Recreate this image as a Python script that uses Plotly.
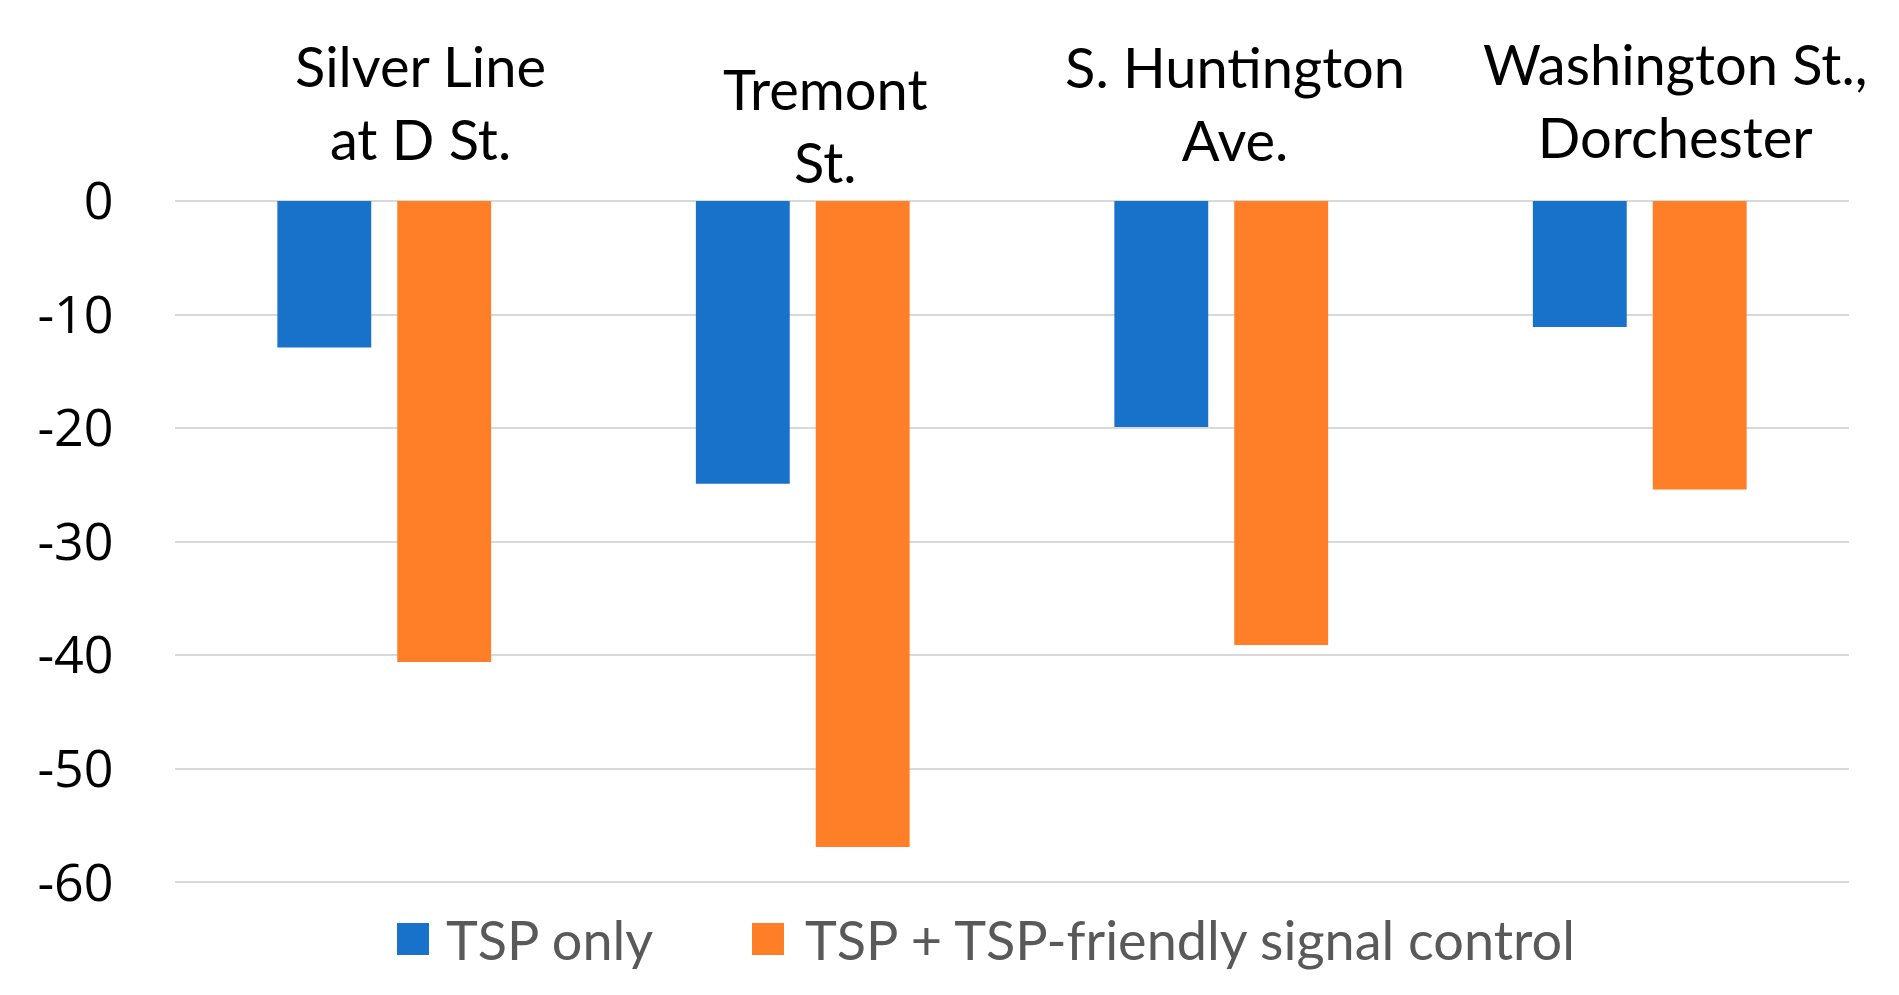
import plotly.graph_objects as go

# ---- data ----
categories = ["Silver Line<br>at D St.", "Tremont<br>St.", "S. Huntington<br>Ave.", "Washington St.,<br>Dorchester"]
series_names = ["TSP only", "TSP + TSP-friendly signal control"]
tsp_only = [-12.9, -24.9, -19.9, -11.1]
tsp_friendly = [-40.6, -56.9, -39.1, -25.4]
y_ticks = [0, -10, -20, -30, -40, -50, -60]

# ---- styles ----
W, H = 1899, 995
L, R, T, B = 175, 50, 201, 111
colors = ["#1872CA", "#FE7F27"]
label_font = dict(family="Lato", size=56, color="#000000")
legend_font = dict(family="Lato", size=54, color="#595959")
label_y = [1.145, 1.111, 1.143, 1.148]
label_xshift = [36, 22, 14, 35]
y_range = [-60.15, 0]

pw, ph = W - L - R, H - T - B
def px(xp):
    return (xp - L) / pw
def py(yp):
    return (H - B - yp) / ph

fig = go.Figure()
fig.add_trace(go.Bar(x=categories, y=tsp_only, name=series_names[0],
                     marker=dict(color=colors[0], line=dict(width=0)), showlegend=False))
fig.add_trace(go.Bar(x=categories, y=tsp_friendly, name=series_names[1],
                     marker=dict(color=colors[1], line=dict(width=0)), showlegend=False))

# category labels above the plot
for cat, yy, xs in zip(categories, label_y, label_xshift):
    fig.add_annotation(x=cat, xref="x", y=yy, yref="paper", text=cat, showarrow=False,
                       xshift=xs, yanchor="middle", xanchor="center", align="center",
                       font=label_font)

# manual legend (large square swatches)
legend_items = [(397, 444), (752, 803)]
for (sx, tx), name, col in zip(legend_items, series_names, colors):
    fig.add_shape(type="rect", xref="paper", yref="paper",
                  x0=px(sx), x1=px(sx + 32), y0=py(923), y1=py(955),
                  fillcolor=col, line=dict(width=0))
    fig.add_annotation(x=px(tx), xref="paper", y=py(939), yref="paper", text=name,
                       showarrow=False, xanchor="left", yanchor="middle", font=legend_font)

fig.update_layout(
    width=W, height=H,
    margin=dict(l=L, r=R, t=T, b=B, pad=0),
    paper_bgcolor="white", plot_bgcolor="white",
    barmode="group", bargap=0.427, bargroupgap=0.217,
    showlegend=False,
    font=dict(family="Open Sans", color="#000000"),
)
fig.update_xaxes(range=[-0.5, len(categories) - 0.5], autorange=False,
                 showticklabels=False, showgrid=False, zeroline=False, showline=False, ticks="")
fig.update_yaxes(range=y_range, autorange=False, tickvals=y_ticks, ticktext=[str(v) for v in y_ticks],
                 showgrid=True, gridcolor="#D9D9D9", gridwidth=2,
                 zeroline=True, zerolinecolor="#D9D9D9", zerolinewidth=2,
                 showline=False, ticks="outside", ticklen=50, tickcolor="rgba(0,0,0,0)",
                 tickfont=dict(family="Open Sans", size=52, color="#000000"))

fig.write_html("out.html", config={"displayModeBar": False},
               post_script="document.body.style.margin='0';")
